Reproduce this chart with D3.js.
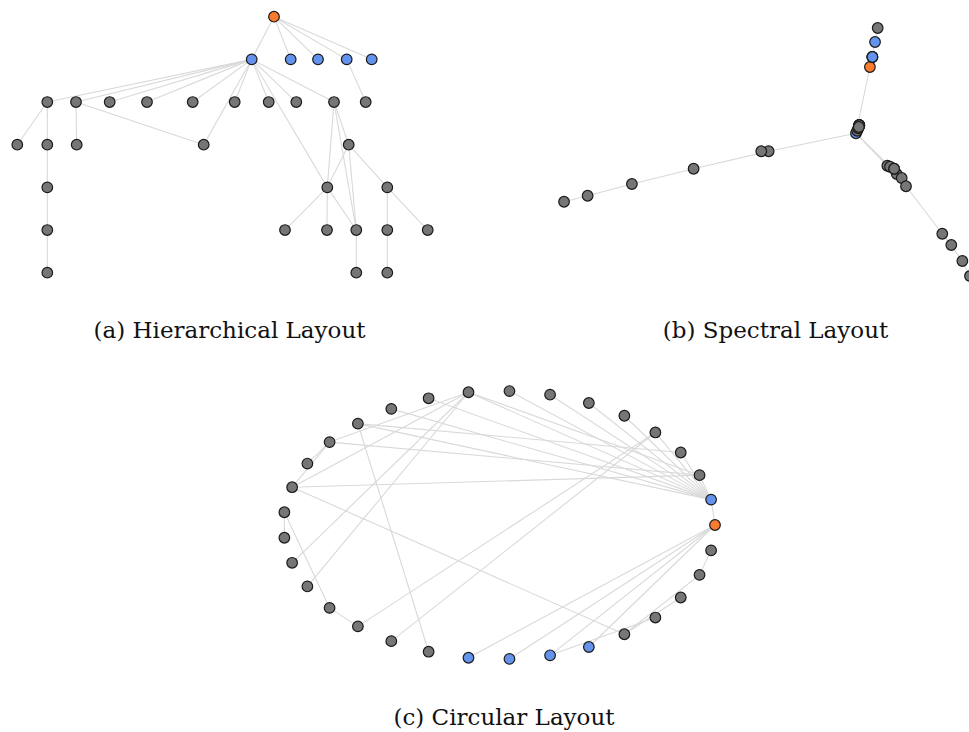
<!DOCTYPE html>
<html>
<head>
<meta charset="utf-8">
<script src="https://cdn.jsdelivr.net/npm/d3@7"></script>
<style>
  html, body { margin: 0; padding: 0; background: #ffffff; }
  svg { display: block; }
  .caption { font-family: "DejaVu Serif", "Liberation Serif", serif; font-size: 23px; fill: #111; }
</style>
</head>
<body>
<svg id="fig" width="969" height="732"></svg>
<script>
// ---- graph: node names in insertion order ----
const nodeIds = ["R","A","a9","b4","a1","a3","a4","a5","a6","c2","a7","a8","a2","e4","f2","b5",
                 "e1","f1","e2","e3","c1","b2","b1","b3","B","C","D","E","c3","d1","e6","e5","f3"];
// role of each node: 0 = root, 1 = first tier, 2 = other
const nodeRole = [0,1,2,2,2,2,2,2,2,2,2,2,2,2,2,2,2,2,2,2,2,2,2,2,1,1,1,1,2,2,2,2,2];

// edges as [source, target]
const edgeList = [
  ["R","A"],["R","B"],["R","C"],["R","D"],["R","E"],
  ["D","d1"],
  ["A","a1"],["A","a2"],["A","a3"],["A","a4"],["A","a5"],["A","a6"],["A","a7"],["A","a8"],["A","a9"],
  ["A","c2"],["A","b4"],
  ["a1","b1"],["a1","b2"],["a2","b3"],["a2","b4"],
  ["b2","c1"],["c1","e1"],["e1","f1"],
  ["a9","b5"],["a9","c2"],["a9","e4"],
  ["b5","c2"],["b5","c3"],["b5","e4"],
  ["c2","e2"],["c2","e3"],["c2","e4"],
  ["e4","f2"],["c3","e5"],["c3","e6"],["e5","f3"]
];

// hierarchical layout: layer index and horizontal position within the layer
const hierLevel = [0,1,2,3,2,2,2,2,2,4,2,2,2,5,6,3,5,6,5,5,4,3,3,3,1,1,1,1,4,2,5,5,6];
const hierX = [274.0,251.7,334.0,203.7,47.3,109.7,147.0,192.7,234.7,327.3,268.7,296.3,76.0,356.3,356.3,348.7,
               47.3,47.3,285.0,327.0,47.3,47.3,17.3,76.7,290.7,318.0,346.7,371.7,387.3,365.7,427.7,387.3,387.3];

// spectral layout: first two non-trivial Laplacian eigenvector coordinates
const specX = [0.502,0.434,0.587,0.440,0.008,0.450,0.450,0.450,0.450,0.600,0.450,0.450,0.445,0.633,0.657,0.678,
               -0.875,-0.990,0.620,0.620,-0.659,-0.358,-0.028,0.448,0.514,0.514,0.527,0.514,0.855,0.540,0.899,0.953,0.990];
const specY = [0.672,0.142,-0.118,0.162,-0.002,0.206,0.206,0.206,0.206,-0.126,0.206,0.206,0.182,-0.184,-0.216,-0.282,
               -0.358,-0.406,-0.142,-0.142,-0.264,-0.142,-0.002,0.192,0.752,0.752,0.872,0.752,-0.662,0.984,-0.752,-0.880,-1.000];

const captions = ["(a) Hierarchical Layout", "(b) Spectral Layout", "(c) Circular Layout"];

// ---- styling ----
const roleFill = ["#fa7b2d", "#6393ec", "#767676"];
const nodeR = 5.3;
const edgeColor = "#d9d9d9";

const svg = d3.select("#fig");
const index = new Map(nodeIds.map((id, i) => [id, i]));
const nodes = nodeIds.map((id, i) => ({ id, i, role: nodeRole[i] }));
const links = edgeList.map(([s, t]) => ({ s: index.get(s), t: index.get(t) }));

function drawGraph(g, px, py) {
  g.append("g").selectAll("line").data(links).join("line")
    .attr("x1", d => px(d.s)).attr("y1", d => py(d.s))
    .attr("x2", d => px(d.t)).attr("y2", d => py(d.t))
    .attr("stroke", edgeColor).attr("stroke-width", 1.1);
  g.append("g").selectAll("circle").data(nodes).join("circle")
    .attr("cx", d => px(d.i)).attr("cy", d => py(d.i))
    .attr("r", nodeR)
    .attr("fill", d => roleFill[d.role])
    .attr("stroke", "#1a1a1a").attr("stroke-width", 1.2);
}

// (a) hierarchical
const hx = d3.scaleLinear().domain([0, 440]).range([0, 440]);
const hy = d3.scaleLinear().domain([0, 6]).range([16.7, 272.7]);
drawGraph(svg.append("g"), i => hx(hierX[i]), i => hy(hierLevel[i]));

// (b) spectral
const sx = d3.scaleLinear().domain([-1, 1]).range([562, 972]);
const sy = d3.scaleLinear().domain([-1, 1]).range([276, 26]);
drawGraph(svg.append("g"), i => sx(specX[i]), i => sy(specY[i]));

// (c) circular: nodes evenly spaced counter-clockwise from angle 0
const n = nodeIds.length;
const cx = d3.scaleLinear().domain([-1, 1]).range([283.4, 715.0]);
const cy = d3.scaleLinear().domain([-1, 1]).range([659.1, 390.9]);
const ang = i => 2 * Math.PI * i / n;
drawGraph(svg.append("g"), i => cx(Math.cos(ang(i))), i => cy(Math.sin(ang(i))));

// captions
const capPos = [[229.5, 338], [775.5, 338], [504, 725]];
svg.append("g").selectAll("text").data(captions).join("text")
  .attr("class", "caption")
  .attr("x", (d, i) => capPos[i][0]).attr("y", (d, i) => capPos[i][1])
  .attr("text-anchor", "middle")
  .text(d => d);
</script>
</body>
</html>
